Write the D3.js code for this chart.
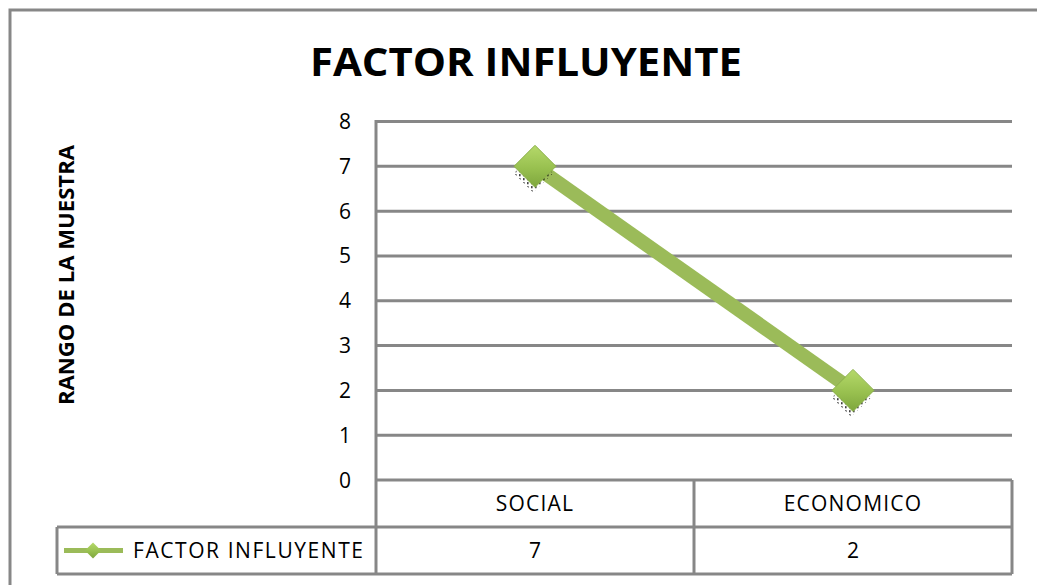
<!DOCTYPE html>
<html>
<head>
<meta charset="utf-8">
<script src="https://cdn.jsdelivr.net/npm/d3@7"></script>
<style>
  body { margin: 0; background: #fff; }
  text { font-family: "Open Sans", "Liberation Sans", sans-serif; }
</style>
</head>
<body>
<div id="chart"></div>
<script>
// chart data
const categories = ["SOCIAL", "ECONOMICO"];
const values = [7, 2];
const yTicks = [0, 1, 2, 3, 4, 5, 6, 7, 8];
const seriesName = "FACTOR INFLUYENTE";

function drawChart() {
  const W = 1037, H = 585;
  const plot = {left: 376, right: 1012, top: 121.5, bottom: 480};
  const tableRow = 47;
  const grid = "#878787";
  const green = "#9bbb59";
  const fs = 21;

  const svg = d3.select("#chart").append("svg")
      .attr("width", W)
      .attr("height", H);

  const defs = svg.append("defs");
  const grad = defs.append("linearGradient")
      .attr("id", "dia").attr("x1", 0).attr("y1", 0).attr("x2", 0).attr("y2", 1);
  grad.append("stop").attr("offset", "0%").attr("stop-color", "#b5d96a");
  grad.append("stop").attr("offset", "55%").attr("stop-color", "#98c04f");
  grad.append("stop").attr("offset", "100%").attr("stop-color", "#7ea63d");

  // dotted shadow under markers
  const pat = defs.append("pattern")
      .attr("id", "dots").attr("width", 4).attr("height", 4)
      .attr("patternUnits", "userSpaceOnUse");
  pat.append("rect").attr("width", 1.6).attr("height", 1.6).attr("fill", "#000");

  // outer chart border (only top and left visible)
  svg.append("path")
      .attr("d", `M10,${H + 5} L10,10 L${W + 5},10`)
      .attr("fill", "none")
      .attr("stroke", grid)
      .attr("stroke-width", 3);

  const x = d3.scaleBand()
      .domain(categories)
      .range([plot.left, plot.right]);

  const y = d3.scaleLinear()
      .domain([0, 8])
      .range([plot.bottom, plot.top]);

  // gridlines
  svg.append("g")
      .selectAll("line")
      .data(yTicks)
      .enter()
      .append("line")
      .attr("x1", plot.left)
      .attr("x2", plot.right)
      .attr("y1", d => y(d))
      .attr("y2", d => y(d))
      .attr("stroke", grid)
      .attr("stroke-width", 3);

  // y tick labels
  svg.append("g")
      .selectAll("text")
      .data(yTicks)
      .enter()
      .append("text")
      .attr("x", 351)
      .attr("y", d => y(d))
      .attr("dy", "0.36em")
      .attr("text-anchor", "end")
      .attr("font-size", fs)
      .attr("fill", "#000")
      .text(d => d);

  // data table
  const tTop = plot.bottom, tMid = plot.bottom + tableRow, tBot = plot.bottom + tableRow * 2;
  const tbl = svg.append("g")
      .attr("fill", "none")
      .attr("stroke", grid)
      .attr("stroke-width", 3);

  tbl.append("line").attr("x1", plot.left).attr("x2", plot.left)
      .attr("y1", plot.top - 1.5).attr("y2", tBot);
  tbl.append("line").attr("x1", plot.right).attr("x2", plot.right)
      .attr("y1", tTop).attr("y2", tBot);
  tbl.append("line").attr("x1", 57).attr("x2", plot.right)
      .attr("y1", tMid).attr("y2", tMid);
  tbl.append("line").attr("x1", 57).attr("x2", plot.right)
      .attr("y1", tBot).attr("y2", tBot);
  tbl.append("line").attr("x1", 57).attr("x2", 57)
      .attr("y1", tMid).attr("y2", tBot);
  categories.slice(1).forEach(c => {
    tbl.append("line").attr("x1", x(c)).attr("x2", x(c))
        .attr("y1", tTop).attr("y2", tBot);
  });

  svg.append("g")
      .selectAll("text")
      .data(categories)
      .enter()
      .append("text")
      .attr("x", d => x(d) + x.bandwidth() / 2)
      .attr("y", (tTop + tMid) / 2)
      .attr("dy", "0.36em")
      .attr("text-anchor", "middle")
      .attr("font-size", fs)
      .attr("letter-spacing", 1.2)
      .text(d => d);

  svg.append("g")
      .selectAll("text")
      .data(values)
      .enter()
      .append("text")
      .attr("x", (d, i) => x(categories[i]) + x.bandwidth() / 2)
      .attr("y", (tMid + tBot) / 2)
      .attr("dy", "0.36em")
      .attr("text-anchor", "middle")
      .attr("font-size", fs)
      .text(d => d);

  // legend key in table
  const ly = (tMid + tBot) / 2;
  svg.append("line")
      .attr("x1", 64).attr("x2", 123)
      .attr("y1", ly).attr("y2", ly)
      .attr("stroke", green)
      .attr("stroke-width", 5);
  svg.append("path")
      .attr("transform", `translate(93,${ly})`)
      .attr("d", "M0,-8 L8,0 L0,8 L-8,0 Z")
      .attr("fill", "url(#dia)");
  svg.append("text")
      .attr("x", 133)
      .attr("y", ly)
      .attr("dy", "0.36em")
      .attr("font-size", fs)
      .attr("textLength", 230)
      .attr("lengthAdjust", "spacing")
      .text(seriesName);

  // series line
  const pts = values.map((v, i) => [x(categories[i]) + x.bandwidth() / 2, y(v)]);
  svg.append("path")
      .datum(pts)
      .attr("d", d3.line())
      .attr("fill", "none")
      .attr("stroke", green)
      .attr("stroke-width", 14);

  // markers
  const mk = svg.append("g")
      .selectAll("g")
      .data(pts)
      .enter()
      .append("g")
      .attr("transform", d => `translate(${d[0]},${d[1]})`);
  mk.append("path")
      .attr("d", "M-2,-12 L18,7 L-2,26 L-21,7 Z")
      .attr("fill", "url(#dots)");
  mk.append("path")
      .attr("d", "M0,-21 L21,0 L0,21 L-21,0 Z")
      .attr("fill", "url(#dia)")
      .attr("stroke", "#8bb04a")
      .attr("stroke-width", 1);

  // titles
  svg.append("text")
      .attr("x", 526)
      .attr("y", 76)
      .attr("text-anchor", "middle")
      .attr("font-size", 39)
      .attr("font-weight", "bold")
      .attr("textLength", 432)
      .attr("lengthAdjust", "spacingAndGlyphs")
      .text("FACTOR INFLUYENTE");

  svg.append("text")
      .attr("transform", "translate(74,275) rotate(-90)")
      .attr("text-anchor", "middle")
      .attr("font-size", 22)
      .attr("font-weight", "bold")
      .attr("textLength", 260)
      .attr("lengthAdjust", "spacingAndGlyphs")
      .text("RANGO DE LA MUESTRA");
}

drawChart()
</script>
</body>
</html>
